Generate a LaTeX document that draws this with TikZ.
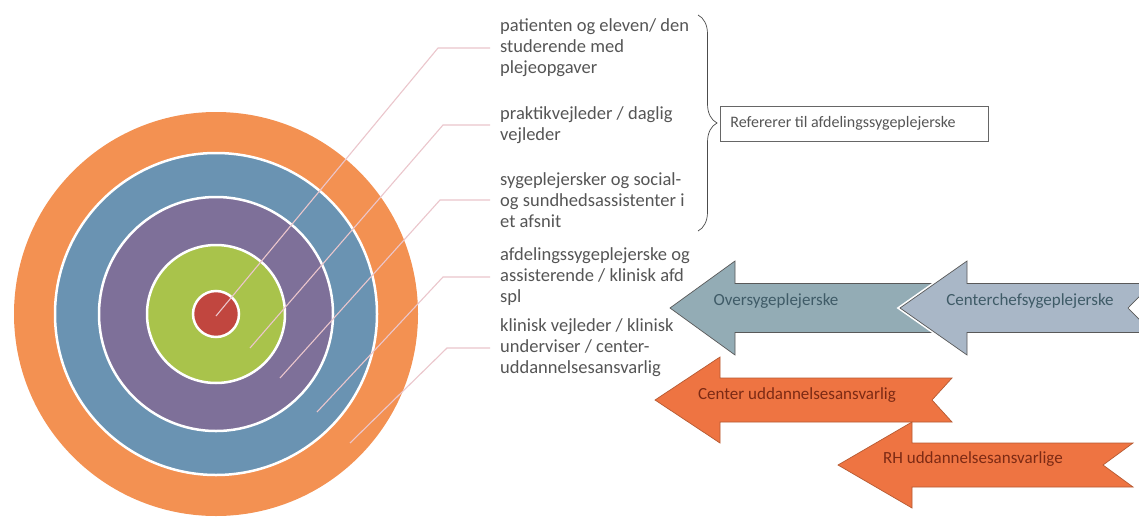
\documentclass[tikz,border=0pt]{standalone}
\usepackage{fontspec}
\setmainfont{Carlito}
\usetikzlibrary{decorations.pathreplacing}
\definecolor{txtgray}{HTML}{555555}
\definecolor{leadpink}{HTML}{EBC6CC}
\definecolor{ringorange}{HTML}{F39152}
\definecolor{ringblue}{HTML}{6A93B2}
\definecolor{ringpurple}{HTML}{7E7099}
\definecolor{ringgreen}{HTML}{A9C34B}
\definecolor{ringred}{HTML}{C1463F}
\definecolor{overblue}{HTML}{93ACB5}
\definecolor{chefblue}{HTML}{A9B7C7}
\definecolor{bluetxt}{HTML}{3F5B67}
\definecolor{arroworange}{HTML}{EE7442}
\definecolor{orangeline}{HTML}{B65A32}
\definecolor{orangetxt}{HTML}{7C2A14}
\tikzset{>=stealth,
  ring/.style={draw=white,line width=2.5pt},
  leader/.style={draw=leadpink,line width=1.1pt},
  itemtxt/.style={anchor=west,align=left,inner xsep=10pt,text=txtgray,
    font=\fontsize{18.5}{21}\selectfont},
  refbox/.style={draw=gray!80!black,line width=0.8pt,text width=248pt,align=flush left,
    inner xsep=10pt,minimum height=35pt,anchor=west,text=txtgray,
    font=\fontsize{16}{18}\selectfont},
  bluearrow/.style={fill=overblue,draw=gray!70!black,line width=0.7pt},
  chefarrow/.style={fill=chefblue,draw=gray!70!black,line width=0.7pt,
    preaction={draw=white,line width=4pt}},
  orangearrow/.style={fill=arroworange,draw=orangeline,line width=0.7pt},
  bluelbl/.style={text=bluetxt,font=\fontsize{17}{19}\selectfont},
  orangelbl/.style={text=orangetxt,font=\fontsize{17}{19}\selectfont}}

\begin{document}
\begin{tikzpicture}[x=1pt,y=-1pt]
    \clip (0,0) rectangle (1139,519);
    \fill[white] (0,0) rectangle (1139,519);
    % target
    \fill[ringorange] (216,314) circle (202);
    \filldraw[ring,fill=ringblue] (216,314) circle (161);
    \filldraw[ring,fill=ringpurple] (216,314) circle (117);
    \filldraw[ring,fill=ringgreen] (216,314) circle (69);
    \filldraw[ring,fill=ringred] (216,314) circle (23);
    \coordinate (p1) at (216,316);
    \coordinate (p2) at (250,348);
    \coordinate (p3) at (280,378);
    \coordinate (p4) at (317,412);
    \coordinate (p5) at (350,443);
    % texts
    \node[itemtxt] (t1) at (490,48) {patienten og eleven/ den\\studerende med\\plejeopgaver};
    \node[itemtxt] (t2) at (490,125) {praktikvejleder / daglig\\vejleder};
    \node[itemtxt] (t3) at (490,200) {sygeplejersker og social-\\og sundhedsassistenter i\\et afsnit};
    \node[itemtxt] (t4) at (490,277) {afdelingssygeplejerske og\\assisterende / klinisk afd\\spl};
    \node[itemtxt] (t5) at (490,348) {klinisk vejleder / klinisk\\underviser / center-\\uddannelsesansvarlig};
    \draw[leader] (t1.west) -- (438,48) -- (p1);
    \draw[leader] (t2.west) -- (443,125) -- (p2);
    \draw[leader] (t3.west) -- (440,200) -- (p3);
    \draw[leader] (t4.west) -- (443,277) -- (p4);
    \draw[leader] (t5.west) -- (447,348) -- (p5);
    % brace and box
    \coordinate (bt) at (698,15);
    \coordinate (bb) at (698,231);
    \draw[gray!60!black,line width=0.7pt,decorate,decoration={brace,amplitude=19pt}] (bt) -- (bb);
    \node[refbox] (ref) at (720,123.5) {Refererer til afdelingssygeplejerske};
    % arrows
    \filldraw[bluearrow] (670,308) -- (735,261) -- (735,283.5) -- (945,283.5) -- (921,308)
      -- (945,332.5) -- (735,332.5) -- (735,355) -- cycle;
    \filldraw[chefarrow] (900,308) -- (967,261) -- (967,283.5) -- (1152,283.5) -- (1128,308)
      -- (1152,332.5) -- (967,332.5) -- (967,355) -- cycle;
    \filldraw[orangearrow] (655,400) -- (720,357) -- (720,378) -- (952,378) -- (932,400)
      -- (952,422) -- (720,422) -- (720,443) -- cycle;
    \filldraw[orangearrow] (838,465) -- (912,422) -- (912,443) -- (1133,443) -- (1103,465)
      -- (1133,487) -- (912,487) -- (912,508) -- cycle;
    \node[bluelbl] (over) at (776,301) {Oversygeplejerske};
    \node[bluelbl] (chef) at (1030,301) {Centerchefsygeplejerske};
    \node[orangelbl] (cud) at (797,395) {Center uddannelsesansvarlig};
    \node[orangelbl] (rhud) at (973,459) {RH uddannelsesansvarlige};
\end{tikzpicture}
\end{document}
